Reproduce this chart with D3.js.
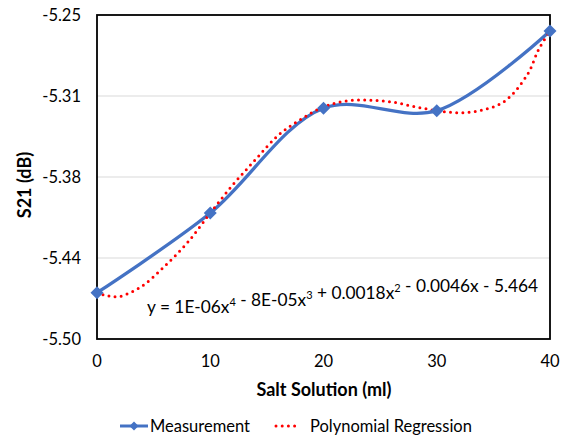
<!DOCTYPE html>
<html>
<head>
<meta charset="utf-8">
<script src="https://cdn.jsdelivr.net/npm/d3@7"></script>
<style>
  body { margin: 0; background: #fff; }
  text { font-family: Lato, "Open Sans", sans-serif; fill: #000; }
</style>
</head>
<body>
<script>
// measured S21 vs salt solution
const saltMl = [0, 10, 20, 30, 40];
const s21 = [-5.4643, -5.4028, -5.3220, -5.3238, -5.2623];

// polynomial regression curve
const fitX = [0, 1, 2, 4, 6, 8, 10, 12, 14, 16, 18, 20, 22, 24, 26, 28, 30, 32, 34, 36, 38, 39, 40];
const fitY = [-5.4643, -5.4668, -5.4672, -5.4590, -5.4436, -5.4255, -5.4028, -5.3810, -5.3615, -5.3428,
  -5.3305, -5.3210, -5.3163, -5.3157, -5.3171, -5.3206, -5.3238, -5.3254, -5.3234, -5.3165, -5.2960, -5.2765, -5.2623];

const yTicks = [-5.5, -5.4375, -5.375, -5.3125, -5.25];
const yTickLabels = ["-5.50", "-5.44", "-5.38", "-5.31", "-5.25"];
const xTicks = [0, 10, 20, 30, 40];

const width = 563, height = 438;
const blue = "#4472C4", red = "#FF0000";

const svg = d3.select("body").append("svg")
  .attr("width", width)
  .attr("height", height);

const x = d3.scaleLinear().domain([0, 40]).range([97, 550]);
const y = d3.scaleLinear().domain([-5.5, -5.25]).range([339, 15]);

// gridlines
svg.selectAll(".grid")
  .data(yTicks.slice(1, -1))
  .enter().append("line")
  .attr("x1", x(0)).attr("x2", x(40))
  .attr("y1", d => y(d)).attr("y2", d => y(d))
  .attr("stroke", "#d9d9d9")
  .attr("stroke-width", 1);

// frame
svg.append("rect")
  .attr("x", x(0)).attr("y", y(-5.25))
  .attr("width", x(40) - x(0))
  .attr("height", y(-5.5) - y(-5.25))
  .attr("fill", "none")
  .attr("stroke", "#000")
  .attr("stroke-width", 1.8);

// y tick labels
svg.selectAll(".ylab")
  .data(yTicks)
  .enter().append("text")
  .attr("x", 81)
  .attr("y", d => y(d))
  .attr("dy", "0.35em")
  .attr("text-anchor", "end")
  .style("font-size", "16.5px")
  .text((d, i) => yTickLabels[i]);

// x tick labels
svg.selectAll(".xlab")
  .data(xTicks)
  .enter().append("text")
  .attr("x", d => x(d))
  .attr("y", 367)
  .attr("text-anchor", "middle")
  .style("font-size", "16.5px")
  .text(d => d);

// axis titles
svg.append("text")
  .attr("transform", "translate(31,185) rotate(-90)")
  .attr("text-anchor", "middle")
  .style("font-size", "18px")
  .style("font-weight", "bold")
  .text("S21 (dB)");

svg.append("text")
  .attr("x", 324).attr("y", 396)
  .attr("text-anchor", "middle")
  .style("font-size", "18px")
  .style("font-weight", "bold")
  .text("Salt Solution (ml)");

// measurement line
const measLine = d3.line()
  .x(d => x(d[0]))
  .y(d => y(d[1]))
  .curve(d3.curveCatmullRom.alpha(0.5));

svg.append("path")
  .datum(d3.zip(saltMl, s21))
  .attr("d", measLine)
  .attr("fill", "none")
  .attr("stroke", blue)
  .attr("stroke-width", 3.3);

// regression curve
svg.append("path")
  .datum(d3.zip(fitX, fitY))
  .attr("d", measLine)
  .attr("fill", "none")
  .attr("stroke", red)
  .attr("stroke-width", 3)
  .attr("stroke-linecap", "round")
  .attr("stroke-dasharray", "0 6.2");

const diamond = "M0,-6.5L6.5,0L0,6.5L-6.5,0Z";

svg.selectAll(".pt")
  .data(d3.zip(saltMl, s21))
  .enter().append("path")
  .attr("d", diamond)
  .attr("transform", d => `translate(${x(d[0])},${y(d[1])})`)
  .attr("fill", blue);

// equation
const eq = svg.append("text")
  .attr("x", 147).attr("y", 313)
  .style("font-size", "17.3px");
const parts = [["y = 1E-06x", "4"], [" - 8E-05x", "3"], [" + 0.0018x", "2"], [" - 0.0046x - 5.464", null]];
parts.forEach(p => {
  eq.append("tspan").attr("dy", 0).text(p[0]);
  if (p[1]) {
    eq.append("tspan").attr("dy", -7).style("font-size", "11px").text(p[1]);
    eq.append("tspan").attr("dy", 7).text("");
  }
});

// legend
const legY = 426;
svg.append("line")
  .attr("x1", 120).attr("x2", 148)
  .attr("y1", legY).attr("y2", legY)
  .attr("stroke", blue).attr("stroke-width", 3);
svg.append("path")
  .attr("d", "M0,-4.5L4.5,0L0,4.5L-4.5,0Z")
  .attr("transform", `translate(134,${legY})`)
  .attr("fill", blue);
svg.append("text")
  .attr("x", 150).attr("y", legY).attr("dy", "0.35em")
  .style("font-size", "16.5px")
  .text("Measurement");

svg.append("line")
  .attr("x1", 276).attr("x2", 298)
  .attr("y1", legY).attr("y2", legY)
  .attr("stroke", red).attr("stroke-width", 3)
  .attr("stroke-linecap", "round")
  .attr("stroke-dasharray", "0 6.2");
svg.append("text")
  .attr("x", 310).attr("y", legY).attr("dy", "0.35em")
  .style("font-size", "16.5px")
  .text("Polynomial Regression");
</script>
</body>
</html>
